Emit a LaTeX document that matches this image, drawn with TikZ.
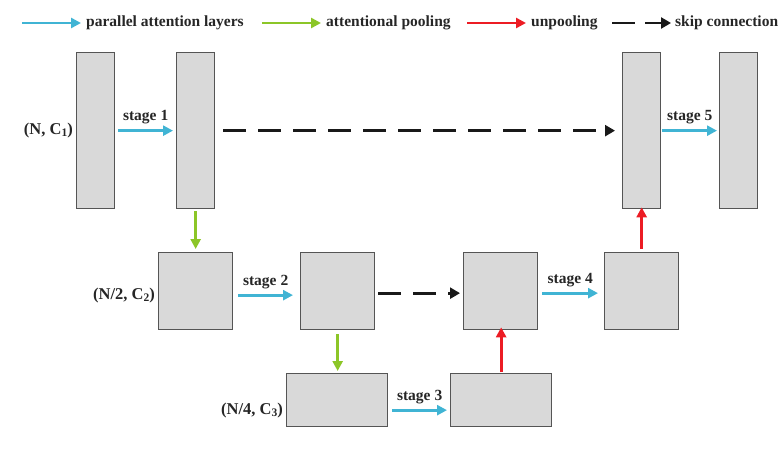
\documentclass[tikz,border=0pt]{standalone}
\usepackage{fontspec}
\setmainfont{Liberation Serif}
\usetikzlibrary{arrows.meta}
\definecolor{cblue}{RGB}{64,180,212}
\definecolor{cgreen}{RGB}{140,198,40}
\definecolor{cred}{RGB}{236,28,36}
\definecolor{cfill}{RGB}{217,217,217}
\definecolor{cedge}{RGB}{85,85,85}
\newcommand{\sub}[1]{\raisebox{-0.25ex}{\fontsize{11.5}{12}\selectfont #1}}
\tikzset{
  blk/.style={draw=cedge, fill=cfill, line width=1.3pt, inner sep=0pt},
  arr/.style={line width=2.8pt, -{Triangle[length=10pt,width=10pt]}},
  parr/.style={arr, draw=cblue},
  garr/.style={arr, draw=cgreen},
  rarr/.style={arr, draw=cred},
  skip/.style={line width=2.8pt, black!90, dash pattern=on 23pt off 12pt, -{Triangle[length=10pt,width=11pt]}},
  lbl/.style={font=\fontsize{15.5}{18}\selectfont\bfseries, text=black!85, inner sep=1pt},
  dim/.style={font=\fontsize{16.5}{18}\selectfont\bfseries, text=black!85, inner sep=1pt},
}
\newcommand{\rect}[5]{\node[blk, minimum width=#3pt, minimum height=#4pt, anchor=north west] (#5) at (#1pt,{451pt-#2pt}) {};}
\begin{document}
\begin{tikzpicture}[x=1pt,y=1pt]
\useasboundingbox (0,0) rectangle (778,451);
% legend
\coordinate (l1a) at (22,428); \coordinate (l1b) at (81,428);
\draw[parr] (l1a) -- (l1b);
\node[lbl, anchor=west] (t1) at (85,428) {parallel attention layers};
\coordinate (l2a) at (262,428); \coordinate (l2b) at (321,428);
\draw[garr] (l2a) -- (l2b);
\node[lbl, anchor=west] (t2) at (325,428) {attentional pooling};
\coordinate (l3a) at (467,428); \coordinate (l3b) at (526,428);
\draw[rarr] (l3a) -- (l3b);
\node[lbl, anchor=west] (t3) at (530,428) {unpooling};
\coordinate (l4a) at (612,428); \coordinate (l4b) at (671,428);
\draw[skip, dash pattern=on 23pt off 10pt] (l4a) -- (l4b);
\node[lbl, anchor=west] (t4) at (674,428) {skip connection};
% boxes
\rect{76}{52}{38}{156}{b1}
\rect{176}{52}{38}{156}{b2}
\rect{622}{52}{38}{156}{b5a}
\rect{719}{52}{38}{156}{b5b}
\rect{158}{252}{74}{77}{b2a}
\rect{300}{252}{74}{77}{b2b}
\rect{463}{252}{74}{77}{b4a}
\rect{604}{252}{74}{77}{b4b}
\rect{286}{373}{101}{53}{b3a}
\rect{450}{373}{101}{53}{b3b}
% dims
\node[dim, anchor=east] (d1) at ([xshift=-2pt]b1.west) {(N, C\sub{1})};
\node[dim, anchor=east] (d2) at ([xshift=-2pt,yshift=-4pt]b2a.west) {(N/2, C\sub{2})};
\node[dim, anchor=east] (d3) at ([xshift=-2pt,yshift=-10pt]b3a.west) {(N/4, C\sub{3})};
% stage arrows
\draw[parr] ([xshift=3pt]b1.east) -- node[lbl, above=4pt] (s1) {stage 1} ([xshift=-3pt]b2.west);
\draw[parr] ([xshift=5pt,yshift=-4pt]b2a.east) -- node[lbl, above=4pt] (s2) {stage 2} ([xshift=-7pt,yshift=-4pt]b2b.west);
\draw[parr] ([xshift=4pt,yshift=-10pt]b3a.east) -- node[lbl, above=4pt] (s3) {stage 3} ([xshift=-3pt,yshift=-10pt]b3b.west);
\draw[parr] ([xshift=4pt,yshift=-2pt]b4a.east) -- node[lbl, above=4pt] (s4) {stage 4} ([xshift=-6pt,yshift=-2pt]b4b.west);
\draw[parr] ([xshift=1pt]b5a.east) -- node[lbl, above=4pt] (s5) {stage 5} ([xshift=-2pt]b5b.west);
% pooling
\draw[garr] ([yshift=-2pt]b2.south) -- ([yshift=3pt]b2a.north -| b2.south);
\draw[garr] ([yshift=-4pt]b2b.south) -- ([yshift=2pt]b3a.north -| b2b.south);
% unpooling
\draw[rarr] ([yshift=1pt]b3b.north) -- ([yshift=3pt]b4a.south -| b3b.north);
\draw[rarr] ([yshift=3pt]b4b.north) -- ([yshift=2pt]b5a.south -| b4b.north);
% skips
\draw[skip] ([xshift=8pt]b2.east) -- ([xshift=-7pt]b5a.west);
\draw[skip] ([xshift=3pt,yshift=-2pt]b2b.east) -- ([xshift=-3pt,yshift=-2pt]b4a.west);
\end{tikzpicture}
\end{document}
